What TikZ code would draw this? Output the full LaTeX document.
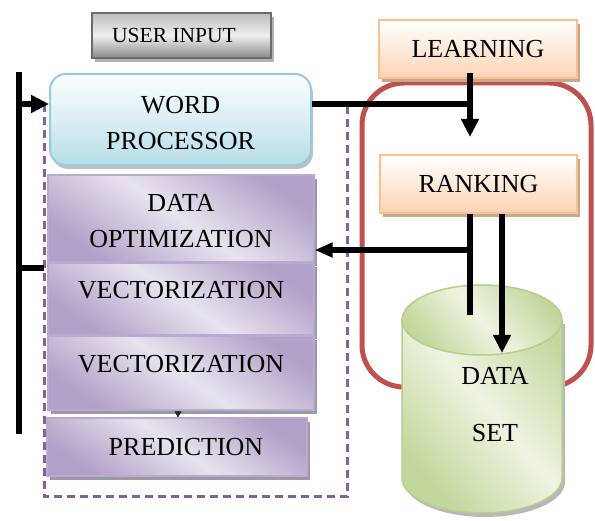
\documentclass[tikz,border=0pt]{standalone}
\usepackage{fontspec}
\setmainfont{Liberation Serif}
\usetikzlibrary{arrows.meta,shadows,calc}

\definecolor{uiTop}{HTML}{BDBDBD}
\definecolor{uiMid}{HTML}{EEEEEE}
\definecolor{uiBot}{HTML}{8A8A8A}
\definecolor{uiBorder}{HTML}{6B6B6B}
\definecolor{wpTop}{HTML}{FDFEFF}
\definecolor{wpBot}{HTML}{B7DEE8}
\definecolor{wpBorder}{HTML}{93CDDD}
\definecolor{orTop}{HTML}{FFFFFF}
\definecolor{orBot}{HTML}{FBD4B4}
\definecolor{orBorder}{HTML}{FAC090}
\definecolor{orShadow}{HTML}{C9A98C}
\definecolor{purpD}{HTML}{B1A0C7}
\definecolor{purpL}{HTML}{E8E3EF}
\definecolor{purpBorder}{HTML}{B9AAD0}
\definecolor{purpShadow}{HTML}{9C98A6}
\definecolor{dashC}{HTML}{7F62A4}
\definecolor{loopC}{HTML}{C0504D}
\definecolor{grnL}{HTML}{EEF4E2}
\definecolor{grnD}{HTML}{C3D69B}
\definecolor{grnBorder}{HTML}{B7CD8E}

\begin{document}
\begin{tikzpicture}[x=1pt,y=1pt,
  txt/.style={font=\fontsize{26}{36}\selectfont, align=center, text=black, inner sep=0pt},
  graybox/.style={draw=uiBorder, line width=1.5pt, top color=uiTop, bottom color=uiBot, middle color=uiMid,
    drop shadow={shadow xshift=3pt, shadow yshift=-4pt, fill=black!30, opacity=1},
    font=\fontsize{21.5}{26}\selectfont, text=black, inner sep=0pt},
  bluebox/.style={draw=wpBorder, line width=2pt, rounded corners=16pt, top color=wpTop, bottom color=wpBot,
    drop shadow={shadow xshift=2pt, shadow yshift=-4pt, fill=black!25, opacity=1}, txt},
  orangebox/.style={draw=orBorder, line width=1.5pt, top color=orTop, bottom color=orBot,
    drop shadow={shadow xshift=3pt, shadow yshift=-4pt, fill=orShadow, opacity=1}, txt},
  purplebox/.style={draw=purpBorder, line width=1.2pt, top color=purpD, bottom color=purpD, middle color=purpL,
    shading angle=-35, drop shadow={shadow xshift=3pt, shadow yshift=-4pt, fill=purpShadow, opacity=1}, txt},
  groupline/.style={draw=dashC, line width=3pt, dash pattern=on 8pt off 5pt},
  thick line/.style={line width=5.5pt, black},
  arr/.style={thick line, -{Triangle[length=18pt,width=17pt]}}
]
\useasboundingbox (0,0) rectangle (595,-521);

% dashed group around the processing steps (drawn first, boxes cover its top)
\node[minimum width=303pt, minimum height=393pt, inner sep=0pt, outer sep=0pt] (grp) at (195.5,-300.5) {};
\draw[groupline] (grp.north west) rectangle (grp.south east);

% header box
\node[graybox, minimum width=179pt, minimum height=45pt] (ui) at (181.5,-35.5) {USER INPUT\hspace*{15pt}};

% processing chain
\node[bluebox, minimum width=261pt, minimum height=91pt,
      label={[txt, align=center, yshift=-4pt]center:{WORD\\PROCESSOR}}] (wp) at (180.5,-119.5) {};
\node[purplebox, minimum width=266pt, minimum height=87pt,
      label={[txt, align=center, yshift=-3pt]center:{DATA\\OPTIMIZATION}}] (dopt) at (181,-218.5) {};
\node[purplebox, minimum width=266pt, minimum height=72pt, text height=18pt, text depth=18pt] (vec1) at (181,-299) {VECTORIZATION};
\node[purplebox, minimum width=266pt, minimum height=74pt, text height=18pt, text depth=18pt] (vec2) at (181,-373) {VECTORIZATION};
\node[purplebox, minimum width=260pt, minimum height=58pt] (pred) at (177,-447) {\hspace*{18pt}PREDICTION};

% learning loop
\node[draw=loopC, line width=5pt, rounded corners=42pt, minimum width=229pt, minimum height=304pt, inner sep=0pt] (loop) at (476.5,-235) {};

% data store cylinder
\fill[black!28] (405,-324) -- (405,-482) arc[start angle=180,end angle=360,x radius=80,y radius=35]
  -- (565,-324) -- cycle;
\shade[top color=grnD, bottom color=grnD, middle color=grnL, shading angle=-50]
  (402,-320) -- (402,-478) arc[start angle=180,end angle=360,x radius=80,y radius=35]
  -- (562,-320) arc[start angle=0,end angle=180,x radius=80,y radius=35] -- cycle;
\draw[grnBorder, line width=1.5pt]
  (402,-320) -- (402,-478) arc[start angle=180,end angle=360,x radius=80,y radius=35]
  -- (562,-320);
\shade[top color=grnD, bottom color=grnD, middle color=grnL, shading angle=-50] (482,-320) ellipse[x radius=80, y radius=35];
\draw[grnBorder, line width=1.5pt] (482,-320) ellipse[x radius=80, y radius=35];
\node[txt, font=\fontsize{26}{57}\selectfont] (ds) at (495,-405) {DATA\\SET};

\node[orangebox, minimum width=198pt, minimum height=58pt] (learn) at (478,-49) {LEARNING};
\node[orangebox, minimum width=197pt, minimum height=58pt] (rank) at (478.5,-184) {RANKING};

% input bus on the left
\coordinate (bartop) at (19,-72);
\coordinate (barbot) at (19,-434);
\draw[thick line] (bartop) -- (barbot);
\path (wp.west) ++(0,15.5) coordinate (wpin);
\path (wp.east) ++(0,15.5) coordinate (wpout);
\draw[arr] (bartop |- wpin) -- (wpin);
\draw[thick line] (barbot |- 0,-268) -- (grp.west |- 0,-268);

% learning feeds ranking; word processor joins in
\coordinate (lrtip) at (470,-137);
\draw[arr, shorten <=-6pt] (learn.south -| lrtip) -- (lrtip);
\draw[thick line] (wpout) -- (wpout -| lrtip);

% ranking to optimisation and to the data set
\coordinate (rkdrop) at (470,-315);
\coordinate (rkturn) at (470,-250);
\coordinate (dsin) at (502,-353);
\draw[thick line] (rank.south -| rkdrop) -- (rkdrop);
\draw[arr, -{Triangle[length=18pt,width=14pt]}] (rkturn) -- (dopt.east |- rkturn);
\draw[arr] (rank.south -| dsin) -- (dsin);

% small link between the last two steps
\coordinate (vp) at (178,0);
\draw[line width=0.5pt, -{Triangle[length=6pt,width=7pt]}, black!85] (vec2.south -| vp) -- (pred.north -| vp);
\end{tikzpicture}
\end{document}
